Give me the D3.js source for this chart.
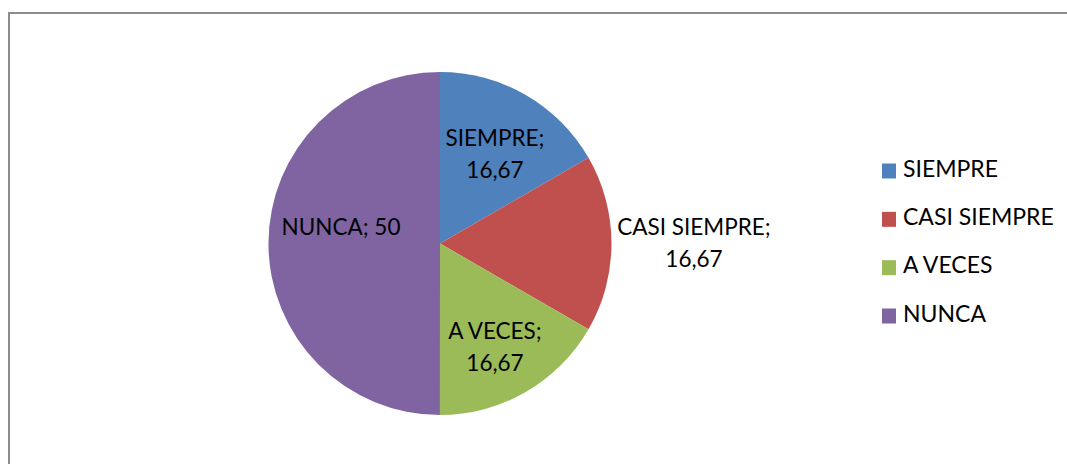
<!DOCTYPE html>
<html><head><meta charset="utf-8">
<script src="https://cdn.jsdelivr.net/npm/d3@7"></script>
<style>body{margin:0;background:#fff}svg{display:block}</style>
</head><body>
<script>
const categories = ["SIEMPRE", "CASI SIEMPRE", "A VECES", "NUNCA"];
const values = [16.67, 16.67, 16.67, 50];
const valueLabels = ["16,67", "16,67", "16,67", "50"];
const colors = ["#4F81BD", "#C0504D", "#9BBB59", "#8064A2"];

const W = 1067, H = 464;
const svg = d3.select("body").append("svg").attr("width", W).attr("height", H);
const font = "Lato, 'Open Sans', sans-serif";

// frame
svg.append("rect").attr("x", 9).attr("y", 13).attr("width", W + 20).attr("height", H + 20)
  .attr("fill", "none").attr("stroke", "#8c8c8c").attr("stroke-width", 2);

const cx = 440, cy = 243.5, r = 171.5;
const data = categories.map((c, i) => ({cat: c, value: values[i], label: valueLabels[i], color: colors[i]}));
const pie = d3.pie().value(d => d.value).sort(null);
const arcs = pie(data);
const arc = d3.arc().innerRadius(0).outerRadius(r);
const g = svg.append("g").attr("transform", `translate(${cx},${cy})`);
g.selectAll("path").data(arcs).join("path").attr("d", arc).attr("fill", d => d.data.color);

// data labels
const labelPos = [
  {x: 495, y: 140, two: true},
  {x: 694, y: 229, two: true},
  {x: 495, y: 333, two: true},
  {x: 341, y: 229, two: false}
];
data.forEach((d, i) => {
  const p = labelPos[i];
  const t = svg.append("text").attr("x", p.x).attr("y", p.y)
    .attr("text-anchor", "middle").attr("dominant-baseline", "middle")
    .attr("font-family", font).attr("font-size", 22.5).attr("fill", "#000");
  if (p.two) {
    t.append("tspan").attr("x", p.x).attr("y", p.y).text(d.cat + ";");
    t.append("tspan").attr("x", p.x).attr("y", p.y + 32).text(d.label);
  } else {
    t.text(d.cat + "; " + d.label);
  }
});

// legend
const legY = d3.scalePoint().domain(categories).range([171, 316]);
const leg = svg.append("g");
categories.forEach((c, i) => {
  const y = legY(c);
  leg.append("rect").attr("x", 882).attr("y", y - 7.5).attr("width", 14).attr("height", 15).attr("fill", colors[i]);
  leg.append("text").attr("x", 903).attr("y", y).attr("dominant-baseline", "middle")
    .attr("font-family", font).attr("font-size", 23).attr("fill", "#000").text(c);
});
</script>
</body></html>
